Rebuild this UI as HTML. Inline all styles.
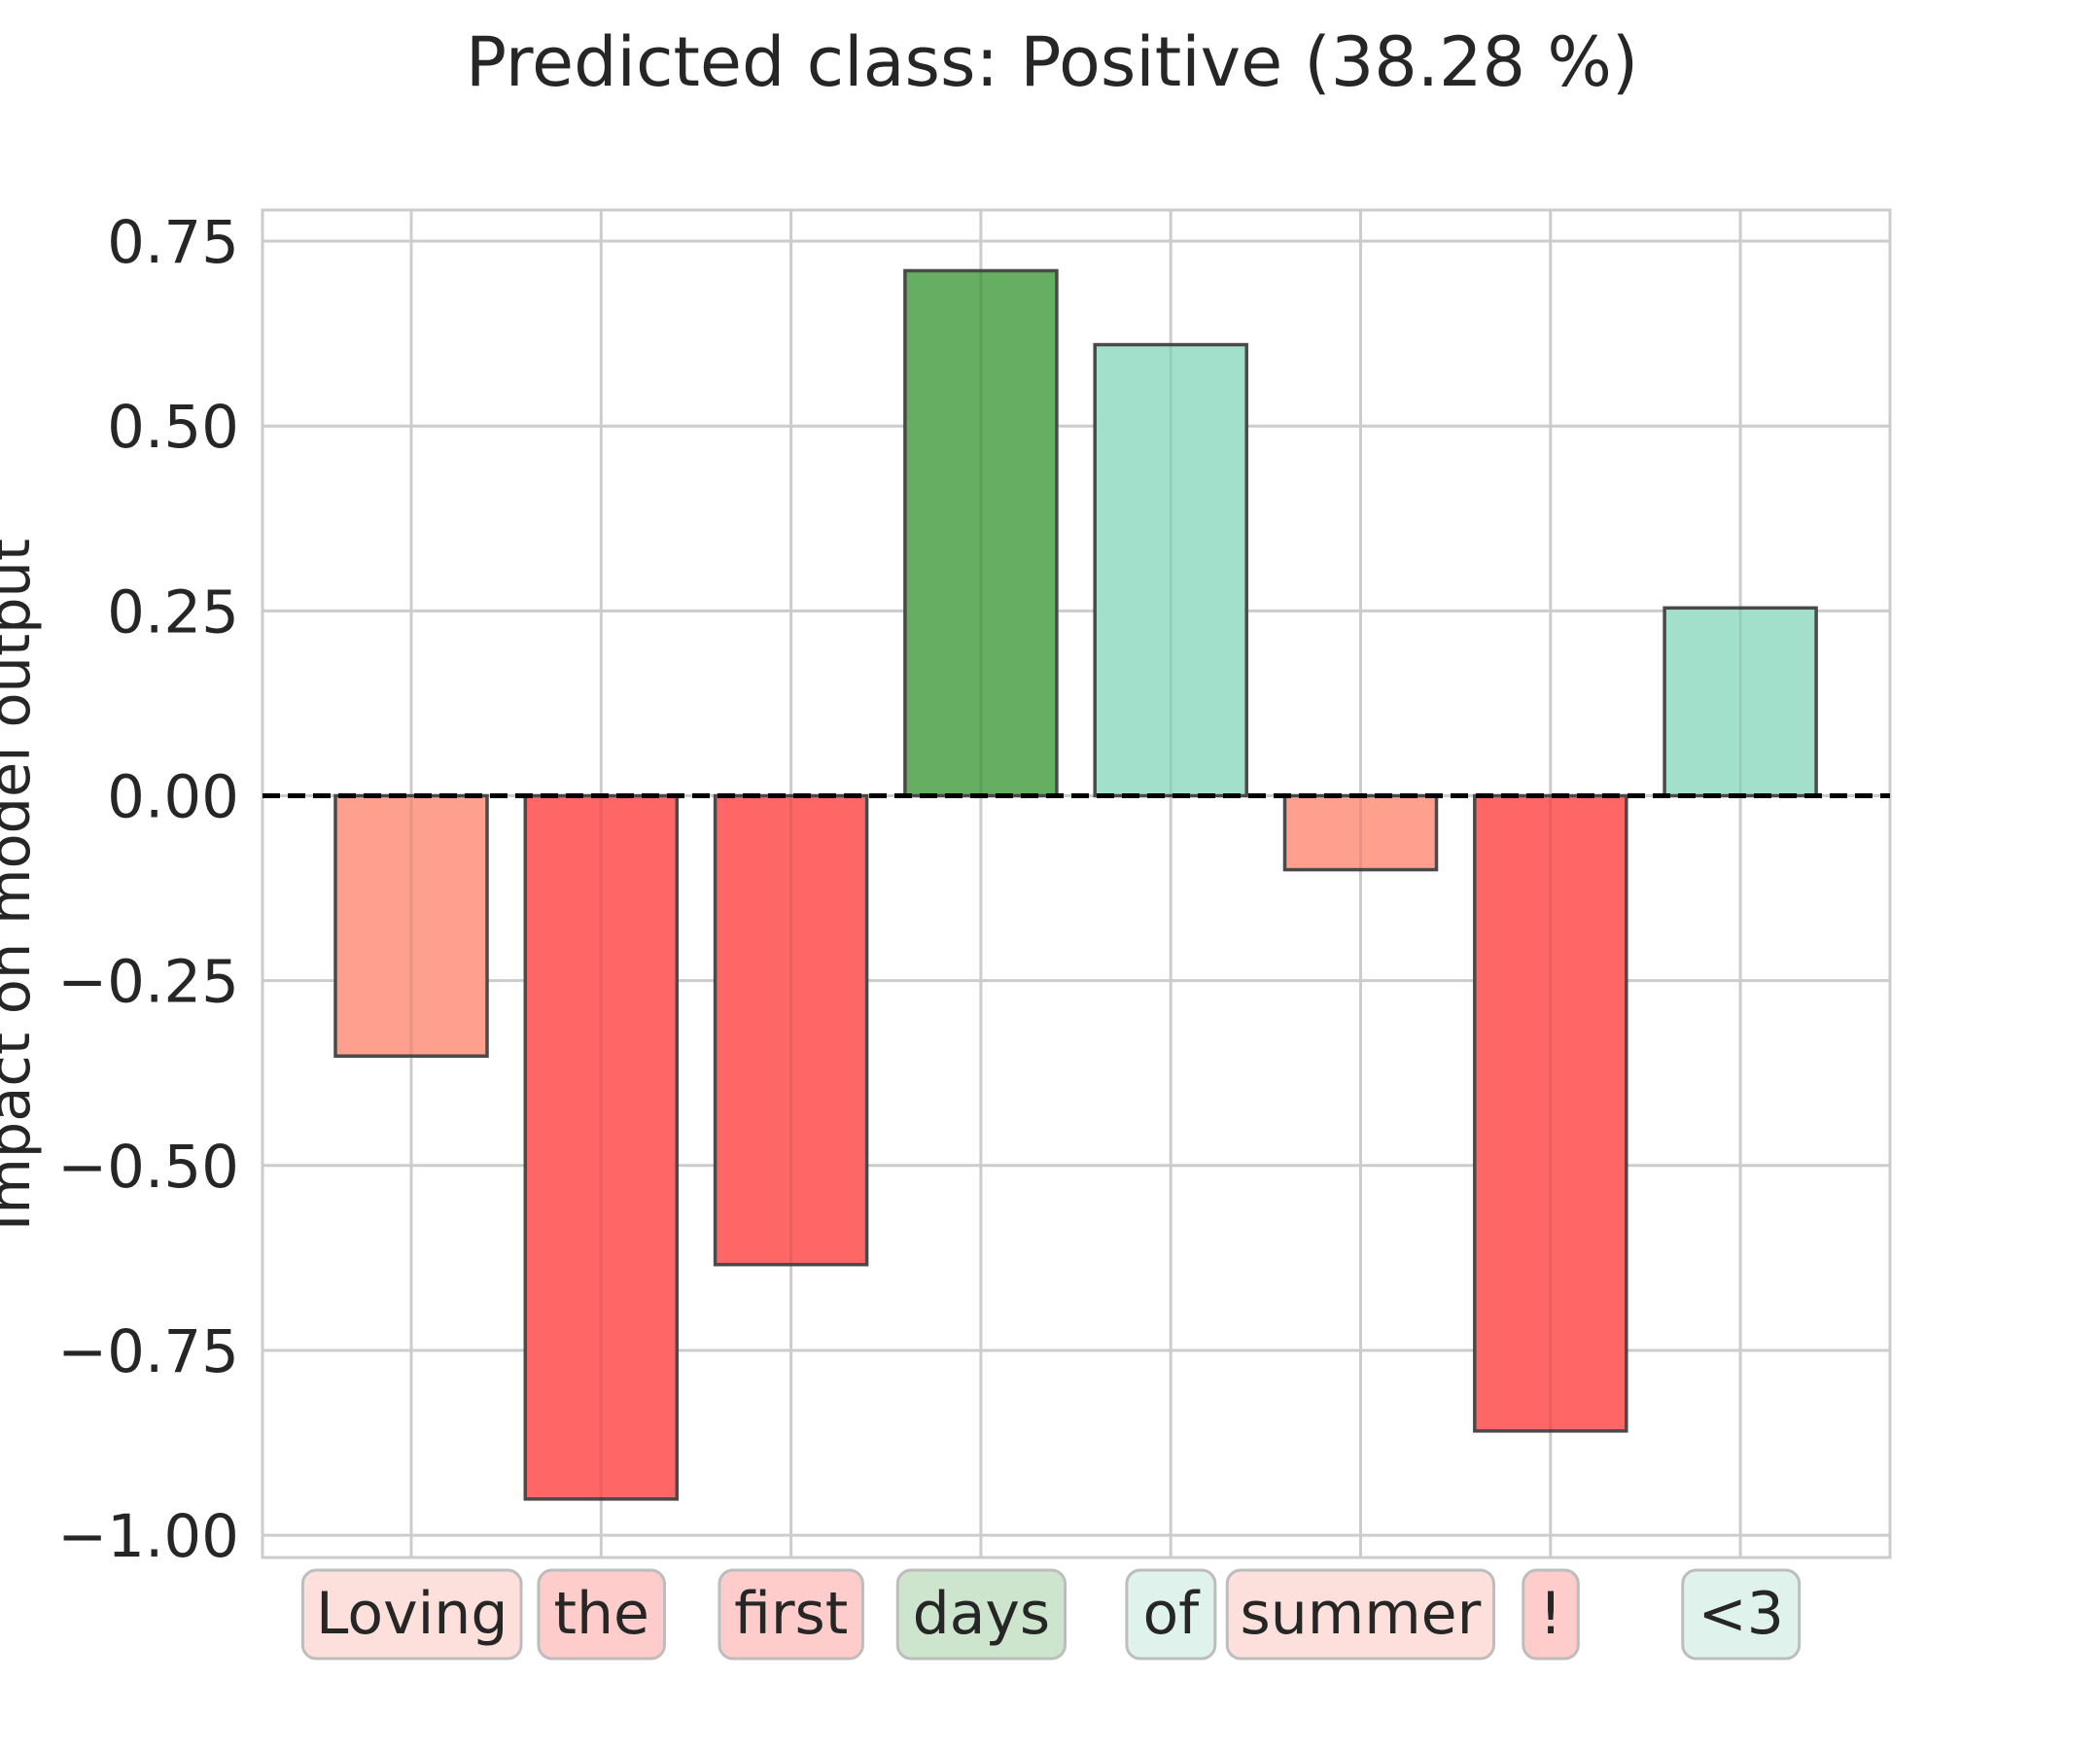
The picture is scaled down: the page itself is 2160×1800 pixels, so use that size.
<!DOCTYPE html>
<html><head><meta charset="utf-8"><style>
html,body{margin:0;padding:0;background:#fff;}
svg{display:block;font-family:"DejaVu Sans","Liberation Sans",sans-serif;}
</style></head><body>
<svg id="chart" width="2160" height="1800" viewBox="0 0 2160 1800">
<text x="1082" y="88" font-size="70" text-anchor="middle" fill="#262626">Predicted class: Positive (38.28 %)</text>
<g id="grid"></g>
<g id="bars"></g>
<g id="yticks"></g>
<g id="tokens"></g>
<text transform="translate(30,910) rotate(-90)" font-size="59" text-anchor="middle" fill="#262626">Impact on model output</text>
</svg>
<script>
const categories = ["Loving","the","first","days","of","summer","!","<3"];
const values = [-0.352,-0.951,-0.634,0.710,0.610,-0.100,-0.859,0.254];
const barColors = ["#ffa08e","#ff6666","#ff6666","#66ae62","#a3e0cb","#ffa08e","#ff6666","#a3e0cb"];
const tokenColors = ["#fde0dc","#fecccb","#fecccb","#cde5cd","#dff3ec","#fde0dc","#fecccb","#dff3ec"];
const tickValues = [0.75,0.5,0.25,0,-0.25,-0.5,-0.75,-1];
const tickLabels = ["0.75","0.50","0.25","0.00","\u22120.25","\u22120.50","\u22120.75","\u22121.00"];
const tokenBoxes = [[226,389],[402,496],[537,644],[670,795],[841,907],[916,1115],[1137,1178],[1256,1343]];

const NS="http://www.w3.org/2000/svg";
const S=1.378;
const L=270,R=1944,T=216,B=1602;
const yScale=v=>818.5-v*760.6;
const xScale=i=>423+i*195.3;
const bw=156;
function mk(tag,attrs,parent){const e=document.createElementNS(NS,tag);for(const k in attrs)e.setAttribute(k,attrs[k]);parent.appendChild(e);return e;}
const grid=document.getElementById('grid'),bars=document.getElementById('bars'),yt=document.getElementById('yticks'),tok=document.getElementById('tokens');
const frame=mk('rect',{x:L,y:T,width:R-L,height:B-T,fill:'none',stroke:'#cccccc','stroke-width':3},grid);


tickValues.forEach((v,i)=>{
  const y=yScale(v);
  const g=mk('line',{x1:L,x2:R,y1:y,y2:y,stroke:'#cccccc','stroke-width':3},grid);
  
  
  const t=mk('text',{x:L-24,y:y+22,'font-size':61,'text-anchor':'end',fill:'#262626'},yt);
  t.textContent=tickLabels[i];
  
  
});
categories.forEach((c,i)=>{
  const x=xScale(i);
  const g=mk('line',{x1:x,x2:x,y1:T,y2:B,stroke:'#cccccc','stroke-width':3},grid);
  
  
});
values.forEach((v,i)=>{
  const x=xScale(i)-bw/2,y0=yScale(0),y1=yScale(v);
  const r=mk('rect',{x:x,y:Math.min(y0,y1),width:bw,height:Math.abs(y1-y0),fill:barColors[i],stroke:'#4a4a4a','stroke-width':3.5},bars);
  
  
  const gl=mk('line',{x1:xScale(i),x2:xScale(i),y1:Math.min(y0,y1),y2:Math.max(y0,y1),stroke:'#000','stroke-opacity':0.08,'stroke-width':3},bars);
  
  
});
const zl=mk('line',{x1:L,x2:R,y1:yScale(0),y2:yScale(0),stroke:'#000','stroke-width':5,'stroke-dasharray':'18 8'},bars);


categories.forEach((c,i)=>{
  const b=tokenBoxes[i],x0=b[0]*S,x1=b[1]*S;
  const r=mk('rect',{x:x0,y:1615,width:x1-x0,height:91,rx:14,fill:tokenColors[i],stroke:'#bdbdbd','stroke-width':3},tok);
  
  
  const t=mk('text',{x:(x0+x1)/2,y:1680,'font-size':60,'text-anchor':'middle',fill:'#262626'},tok);
  t.textContent=c;
  
  
});
</script>
</body></html>
